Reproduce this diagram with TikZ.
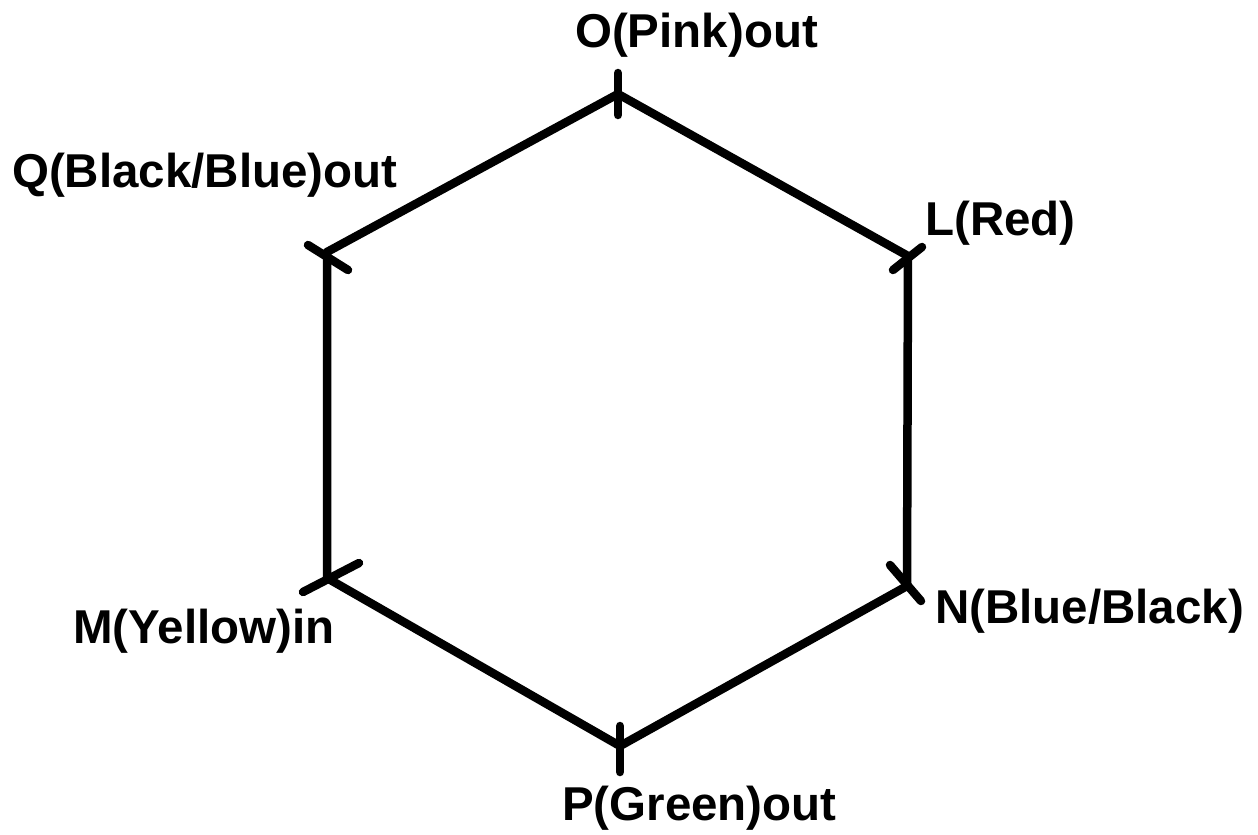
\documentclass[tikz,border=0pt]{standalone}
\usepackage{fontspec}
\setmainfont{Liberation Sans}
\begin{document}
\begin{tikzpicture}[x=1pt,y=-1pt,
  edge/.style={line width=8.5pt,line join=round,line cap=round},
  tick/.style={line width=8.5pt,line cap=round},
  lbl/.style={anchor=base west,inner sep=0pt,font=\bfseries\fontsize{47.5}{50}\selectfont}]
\useasboundingbox (0,0) rectangle (1258,835);
\coordinate (O) at (618,94);
\coordinate (L) at (908,256);
\coordinate (N) at (907,586);
\coordinate (P) at (620,746);
\coordinate (M) at (327,578);
\coordinate (Q) at (327,252);
\draw[edge] (O) -- (L) -- (N) -- (P) -- (M) -- (Q) -- cycle;
% ticks
\coordinate (o1) at (618,73); \coordinate (o2) at (618,115);
\coordinate (l1) at (893,270); \coordinate (l2) at (922,247);
\coordinate (n1) at (890,565); \coordinate (n2) at (921,601);
\coordinate (p1) at (620,726); \coordinate (p2) at (620,772);
\coordinate (m1) at (303,592); \coordinate (m2) at (359,563);
\coordinate (q1) at (308,245); \coordinate (q2) at (348,270);
\draw[tick] (o1) -- (o2);
\draw[tick] (l1) -- (l2);
\draw[tick] (n1) -- (n2);
\draw[tick] (p1) -- (p2);
\draw[tick] (m1) -- (m2);
\draw[tick] (q1) -- (q2);
\node[lbl] (tO) at (575,47) {O(Pink)out};
\node[lbl] (tQ) at (12,187) {Q(Black/Blue)out};
\node[lbl] (tL) at (925,235) {L(Red)};
\node[lbl] (tN) at (935,623) {N(Blue/Black)};
\node[lbl] (tM) at (73,643) {M(Yellow)in};
\node[lbl] (tP) at (562,820) {P(Green)out};
\end{tikzpicture}
\end{document}
